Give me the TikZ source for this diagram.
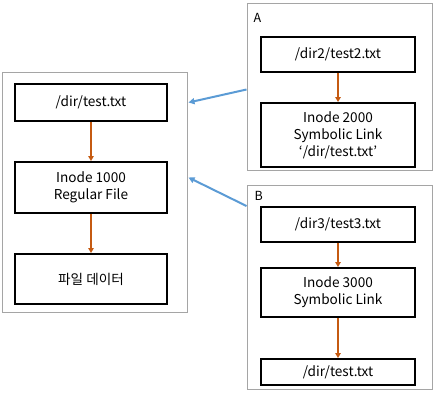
\documentclass[tikz,border=0pt]{standalone}
\usepackage{fontspec}
\setmainfont{Noto Sans CJK KR}
\usepackage{tikz}
\usetikzlibrary{arrows.meta}
\definecolor{linkblue}{RGB}{91,155,213}
\definecolor{steporange}{RGB}{197,90,17}
\definecolor{framegray}{RGB}{165,165,165}

\begin{document}
\begin{tikzpicture}[x=1pt, y=-1pt,
  outer/.style = {draw=framegray, line width=1pt, inner sep=0pt},
  inner/.style = {draw=black, line width=2pt, align=center, inner sep=0pt,
    minimum width=154pt, font=\fontsize{13.6}{17}\selectfont},
  flow/.style = {-{Triangle[length=5pt,width=5.5pt]}, steporange, line width=1.7pt},
  link/.style = {-{Triangle[length=6pt,width=6pt]}, linkblue, line width=2pt}]
 \useasboundingbox (0,0) rectangle (436,400);
 % regular file
 \node[outer, minimum width=185pt, minimum height=240pt] (Lout) at (94.5,192) {};
 \node[inner, minimum width=152pt, minimum height=37pt] (L1) at (91,102.5) {/dir/test.txt};
 \node[inner, minimum width=152pt, minimum height=51pt] (L2) at (91,187.5) {Inode 1000\\Regular File};
 \node[inner, minimum width=152pt, minimum height=50pt] (L3) at (91,279) {파일 데이터};
 \draw[flow] (L1) -- (L2);
 \draw[flow] (L2) -- (L3);
 % link A
 \node[outer, minimum width=185pt, minimum height=167pt] (Aout) at (339.5,86.5) {};
 \node[anchor=west, font=\fontsize{12.5}{14}\selectfont] (Alabel) at (250,18) {A};
 \node[inner, minimum height=35pt] (A1) at (338,54.5) {/dir2/test2.txt};
 \node[inner, minimum height=64pt] (A2) at (338,135) {Inode 2000\\Symbolic Link\\‘/dir/test.txt’};
 \draw[flow] (A1) -- (A2);
 % link B
 \node[outer, minimum width=185pt, minimum height=204pt] (Bout) at (339.5,287) {};
 \node[anchor=west, font=\fontsize{12.5}{14}\selectfont] (Blabel) at (251,196) {B};
 \node[inner, minimum height=35pt] (B1) at (338,224.5) {/dir3/test3.txt};
 \node[inner, minimum height=49pt] (B2) at (338,292.5) {Inode 3000\\Symbolic Link};
 \node[inner, minimum height=26pt] (B3) at (338,372) {/dir/test.txt};
 \draw[flow] (B1) -- (B2);
 \draw[flow] (B2) -- (B3);
 % links to the file
 \draw[link] ([yshift=-3pt]Aout.west) -- ([xshift=1pt]Lout.east |- L1);
 \draw[link] (Bout.west |- B1.north) -- ([xshift=1pt,yshift=10pt]Lout.east |- L2);
\end{tikzpicture}
\end{document}
